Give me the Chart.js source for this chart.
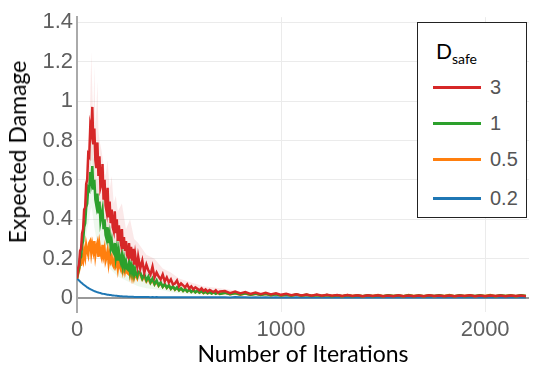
<!DOCTYPE html>
<html>
<head>
<meta charset="utf-8">
<script src="https://cdn.jsdelivr.net/npm/chart.js@4.4.0/dist/chart.umd.min.js"></script>
<style>
  html, body { margin: 0; padding: 0; background: #fff; }
  #wrap { position: relative; width: 539px; height: 376px; }
  #ytitle {
    position: absolute; left: 17px; top: 152px; transform: translate(-50%, -50%) rotate(-90deg);
    font-family: Lato, sans-serif; font-size: 23px; color: #000; white-space: nowrap;
  }
  #legend {
    position: absolute; left: 417px; top: 22px; width: 108px; height: 194px;
    border: 1.5px solid #222; background: #fff;
    font-family: 'Liberation Sans', Arial, sans-serif;
  }
  #legend .title { position: absolute; left: 18px; top: 15px; font-family: Lato, sans-serif; font-size: 21px; color: #000; }
  #legend .title sub { font-size: 14px; vertical-align: -5px; }
  #legend .swatch { position: absolute; left: 15px; width: 48px; height: 3px; }
  #legend .lbl { position: absolute; left: 72px; font-size: 20px; color: #555; line-height: 20px; }
</style>
</head>
<body>
<div id="wrap">
  <canvas id="chart" width="539" height="376"></canvas>
  <div id="ytitle">Expected Damage</div>
  <div id="legend"><div class="title">D<sub>safe</sub></div></div>
</div>
<script>
/* Expected damage vs iterations, four D_safe settings */

const iters = [
  0,5,10,15,20,25,30,35,40,45, 50,55,60,65,70,75,80,85,90,95,
  100,105,110,115,120,125,130,135,140,145, 150,155,160,165,170,175,180,185,190,195,
  200,205,210,215,220,225,230,235,240,245, 250,255,260,265,270,275,280,285,290,295, 300,
  310,320,330,340,350,360,370,380,390,400, 410,420,430,440,450,460,470,480,490,500,
  510,520,530,540,550,560,570,580,590,600, 610,620,630,640,650,660,670,680,690,700,
  725,750,775,800,825,850,875,900,925,950, 975,1000,1025,1050,1075,1100,1125,1150,1175,1200,
  1225,1250,1275,1300,1325,1350,1375,1400,1425,1450, 1475,1500,1525,1550,1575,1600,1625,1650,1675,1700,
  1725,1750,1775,1800,1825,1850,1875,1900,1925,1950, 1975,2000,2025,2050,2075,2100,2125,2150,2175,2200
];

const damage3 = [
  0.10,0.15,0.17,0.24,0.25,0.33,0.35,0.45,0.46,0.58,
  0.60,0.73,0.72,0.87,0.84,0.97,0.78,0.86,0.70,0.66,
  0.79,0.62,0.72,0.56,0.58,0.68,0.50,0.60,0.47,0.44,
  0.56,0.41,0.49,0.38,0.45,0.36,0.34,0.44,0.33,0.40,
  0.29,0.37,0.31,0.28,0.35,0.25,0.31,0.24,0.29,0.22,
  0.21,0.28,0.20,0.26,0.19,0.25,0.17,0.22,0.18,0.16,
  0.21,
  0.15,0.19,0.13,0.17,0.14,0.12,0.16,0.105,0.13,0.11,
  0.095,0.12,0.085,0.105,0.08,0.095,0.07,0.075,0.09,0.06,
  0.075,0.065,0.055,0.07,0.05,0.06,0.045,0.055,0.048,0.04,
  0.05,0.037,0.045,0.034,0.042,0.036,0.031,0.04,0.028,0.034,
  0.036,0.026,0.034,0.024,0.031,0.022,0.029,0.02,0.027,0.019,
  0.025,0.017,0.022,0.015,0.02,0.014,0.019,0.013,0.018,0.012,
  0.017,0.012,0.016,0.011,0.016,0.011,0.015,0.01,0.015,0.011,
  0.015,0.01,0.014,0.01,0.015,0.01,0.014,0.01,0.014,0.01,
  0.015,0.011,0.014,0.01,0.014,0.01,0.014,0.011,0.015,0.01,
  0.014,0.01,0.014,0.011,0.014,0.01,0.014,0.011,0.014,0.01
];

const damage1 = [
  0.10,0.13,0.15,0.20,0.21,0.27,0.29,0.36,0.38,0.46,
  0.48,0.56,0.55,0.64,0.60,0.67,0.55,0.60,0.50,0.47,
  0.53,0.43,0.49,0.39,0.42,0.45,0.35,0.40,0.32,0.30,
  0.36,0.28,0.32,0.26,0.29,0.24,0.23,0.28,0.21,0.25,
  0.19,0.24,0.20,0.18,0.22,0.165,0.20,0.16,0.185,0.15,
  0.145,0.18,0.135,0.165,0.13,0.16,0.12,0.145,0.12,0.11,
  0.135,
  0.13,0.10,0.12,0.09,0.11,0.08,0.10,0.072,0.09,0.065,
  0.08,0.058,0.072,0.053,0.066,0.048,0.06,0.044,0.055,0.04,
  0.05,0.037,0.047,0.034,0.044,0.032,0.041,0.03,0.039,0.028,
  0.036,0.027,0.034,0.025,0.032,0.024,0.031,0.023,0.029,0.022,
  0.028,0.02,0.026,0.019,0.025,0.018,0.023,0.016,0.022,0.015,
  0.02,0.014,0.019,0.013,0.018,0.012,0.017,0.011,0.016,0.011,
  0.016,0.01,0.015,0.01,0.015,0.01,0.014,0.01,0.015,0.01,
  0.014,0.01,0.015,0.011,0.014,0.01,0.015,0.01,0.014,0.01,
  0.014,0.011,0.015,0.01,0.014,0.01,0.015,0.01,0.014,0.011,
  0.015,0.01,0.014,0.01,0.015,0.011,0.014,0.01,0.015,0.011
];

const damage05 = [
  0.10,0.12,0.14,0.17,0.17,0.21,0.19,0.24,0.21,0.27,
  0.24,0.22,0.28,0.29,0.23,0.27,0.24,0.29,0.22,0.26,
  0.28,0.21,0.27,0.23,0.21,0.27,0.22,0.25,0.19,0.21,
  0.24,0.18,0.22,0.19,0.21,0.17,0.16,0.21,0.17,0.19,
  0.15,0.19,0.16,0.145,0.18,0.14,0.165,0.135,0.16,0.13,
  0.125,0.155,0.12,0.145,0.11,0.14,0.105,0.125,0.11,0.10,
  0.12,
  0.12,0.095,0.11,0.085,0.10,0.077,0.092,0.07,0.085,0.063,
  0.077,0.057,0.07,0.052,0.064,0.047,0.058,0.043,0.053,0.04,
  0.049,0.037,0.046,0.034,0.043,0.032,0.04,0.03,0.038,0.028,
  0.035,0.026,0.033,0.025,0.031,0.024,0.03,0.023,0.028,0.022,
  0.027,0.02,0.025,0.018,0.024,0.017,0.022,0.016,0.021,0.015,
  0.02,0.014,0.018,0.013,0.018,0.012,0.017,0.012,0.016,0.011,
  0.016,0.011,0.015,0.01,0.016,0.011,0.015,0.01,0.014,0.011,
  0.016,0.01,0.015,0.011,0.014,0.01,0.016,0.011,0.014,0.01,
  0.015,0.01,0.014,0.011,0.016,0.01,0.014,0.011,0.015,0.01,
  0.014,0.011,0.016,0.01,0.014,0.011,0.015,0.01,0.014,0.011
];

const damage02 = [
  0.10,0.095,0.09,0.085,0.08,0.076,0.071,0.067,0.063,0.059,
  0.055,0.052,0.048,0.046,0.043,0.041,0.038,0.036,0.034,0.032,
  0.03,0.029,0.027,0.026,0.024,0.023,0.022,0.021,0.02,0.019,
  0.018,0.017,0.016,0.016,0.015,0.014,0.014,0.013,0.012,0.012,
  0.011,0.011,0.01,0.01,0.0095,0.009,0.009,0.0085,0.008,0.008,
  0.0078,0.0075,0.0072,0.007,0.007,0.0068,0.0066,0.0065,0.0063,0.0062,
  0.006,
  0.0059,0.0057,0.0058,0.0055,0.0057,0.0054,0.0056,0.0053,0.0055,0.0052,
  0.0054,0.0051,0.0053,0.005,0.0052,0.005,0.0051,0.0049,0.0051,0.0048,
  0.005,0.0048,0.005,0.0047,0.0049,0.0047,0.0049,0.0046,0.0048,0.0046,
  0.0048,0.0045,0.0047,0.0045,0.0047,0.0044,0.0046,0.0044,0.0046,0.0043,
  0.005,0.004,0.0055,0.0042,0.005,0.0038,0.0052,0.004,0.0048,0.0036,
  0.005,0.0041,0.0053,0.0039,0.0049,0.004,0.0052,0.0038,0.005,0.0041,
  0.0048,0.0039,0.0053,0.004,0.0049,0.0037,0.0051,0.004,0.0048,0.0039,
  0.0052,0.004,0.0049,0.0038,0.0051,0.0041,0.0048,0.0039,0.0052,0.004,
  0.005,0.0038,0.0051,0.004,0.0049,0.0041,0.0052,0.0039,0.0048,0.004,
  0.0051,0.0038,0.005,0.0041,0.0049,0.0039,0.0052,0.004,0.0048,0.0039
];

// faint spread bands around the two largest runs
const bandIters = [
  0,10,20,30,40,50,60,65,70,75, 80,85,90,95,100,105,110,120,130,140,
  150,160,170,180,190,200,220,240,260,280, 300,340,380,420,460,500,560,620,700,800
];
const band3Upper = [
  0.11,0.2,0.3,0.42,0.55,0.7,0.85,1.0,1.25,1.05, 0.9,1.18,0.88,0.95,1.1,0.85,0.8,0.75,0.68,0.62,
  0.7,0.55,0.62,0.48,0.52,0.44,0.48,0.35,0.4,0.3, 0.28,0.22,0.2,0.15,0.13,0.1,0.08,0.06,0.05,0.035
];
const band3Lower = [
  0.09,0.15,0.22,0.32,0.4,0.5,0.6,0.65,0.7,0.7, 0.62,0.55,0.5,0.5,0.46,0.44,0.42,0.38,0.34,0.31,
  0.28,0.26,0.24,0.22,0.2,0.19,0.17,0.15,0.13,0.12, 0.1,0.08,0.07,0.06,0.05,0.04,0.03,0.025,0.02,0.015
];
const band1Upper = [
  0.11,0.17,0.24,0.33,0.43,0.54,0.65,0.72,0.8,0.78, 0.7,0.72,0.62,0.6,0.6,0.55,0.52,0.48,0.44,0.42,
  0.4,0.36,0.34,0.31,0.29,0.27,0.24,0.22,0.2,0.18, 0.16,0.13,0.11,0.09,0.075,0.06,0.05,0.04,0.032,0.025
];
const band1Lower = [
  0.09,0.12,0.16,0.22,0.28,0.35,0.4,0.44,0.46,0.44, 0.4,0.36,0.33,0.3,0.28,0.26,0.24,0.22,0.2,0.18,
  0.17,0.15,0.14,0.13,0.12,0.11,0.1,0.09,0.08,0.07, 0.06,0.05,0.045,0.04,0.03,0.025,0.02,0.018,0.015,0.012
];

const seriesLabels = ['3', '1', '0.5', '0.2'];
const seriesColors = ['#d62728', '#2ca02c', '#ff7f0e', '#1f77b4'];
const seriesValues = [damage3, damage1, damage05, damage02];
const seriesWidths = [2.5, 2.5, 2.5, 2];

const xTicks = [0, 1000, 2000];
const xTickLabels = ['0', '1000', '2000'];
const yTicks = [0, 0.2, 0.4, 0.6, 0.8, 1, 1.2, 1.4];
const yTickLabels = ['0', '0.2', '0.4', '0.6', '0.8', '1', '1.2', '1.4'];

function pts(xs, ys) {
    return xs.map((x, i) => ({ x: x, y: ys[i] }));
}

const datasets = seriesValues.map((vals, i) => ({
    label: seriesLabels[i],
    data: pts(iters, vals),
    borderColor: seriesColors[i],
    borderWidth: seriesWidths[i],
    pointRadius: 0,
    fill: false,
    tension: 0,
}));

// bands go last so they are drawn underneath the lines
datasets.push(
    { data: pts(bandIters, band3Upper), borderWidth: 0, pointRadius: 0, fill: '+1', backgroundColor: 'rgba(214,39,40,0.10)' },
    { data: pts(bandIters, band3Lower), borderWidth: 0, pointRadius: 0, fill: false },
    { data: pts(bandIters, band1Upper), borderWidth: 0, pointRadius: 0, fill: '+1', backgroundColor: 'rgba(44,160,44,0.08)' },
    { data: pts(bandIters, band1Lower), borderWidth: 0, pointRadius: 0, fill: false }
);

const tickFont = { family: "'Liberation Sans', Arial, sans-serif", size: 22 };
const titleFont = { family: 'Lato, sans-serif', size: 23 };

new Chart(document.getElementById('chart'), {
    type: 'line',
    data: { datasets },
    options: {
        responsive: false,
        animation: false,
        devicePixelRatio: 1,
        layout: { padding: { left: 0, right: 10, top: 15, bottom: 0 } },
        plugins: { legend: { display: false }, tooltip: { enabled: false } },
        scales: {
            x: {
                type: 'linear',
                min: 0,
                max: 2215,
                afterBuildTicks: s => { s.ticks = xTicks.map(v => ({ value: v })); },
                afterFit: s => { s.height = 64; },
                grid: { color: '#ebebeb', lineWidth: 1, drawTicks: false },
                border: { display: false },
                ticks: {
                    font: tickFont, color: '#5f5f5f', padding: 5, maxRotation: 0,
                    callback: (v, i) => xTickLabels[i],
                },
                title: { display: true, text: 'Number of Iterations', font: titleFont, color: '#000', padding: { top: 0, bottom: 8 } },
            },
            y: {
                min: -0.07,
                max: 1.425,
                afterBuildTicks: s => { s.ticks = yTicks.map(v => ({ value: v })); },
                afterFit: s => { s.width = 77; },
                grid: {
                    drawTicks: false,
                    color: c => (c.tick && c.tick.value === 0 ? '#9a9a9a' : '#ebebeb'),
                    lineWidth: c => (c.tick && c.tick.value === 0 ? 2 : 1),
                },
                border: { display: true, color: '#aaaaaa', width: 2 },
                ticks: {
                    font: tickFont,
                    color: '#5f5f5f',
                    padding: 4,
                    callback: (v, i) => yTickLabels[i],
                },
            },
        },
    },
});

// ── Legend ───────────────────────────────────────────────────────────────
const legendRows = [64, 100, 136, 175];
const legendEl = document.getElementById('legend');
seriesLabels.forEach((lab, i) => {
    const sw = document.createElement('div');
    sw.className = 'swatch';
    sw.style.top = (legendRows[i] - 1.5) + 'px';
    sw.style.background = seriesColors[i];
    legendEl.appendChild(sw);

    const t = document.createElement('div');
    t.className = 'lbl';
    t.style.top = (legendRows[i] - 10) + 'px';
    t.textContent = lab;
    legendEl.appendChild(t);
});
</script>
</body>
</html>
